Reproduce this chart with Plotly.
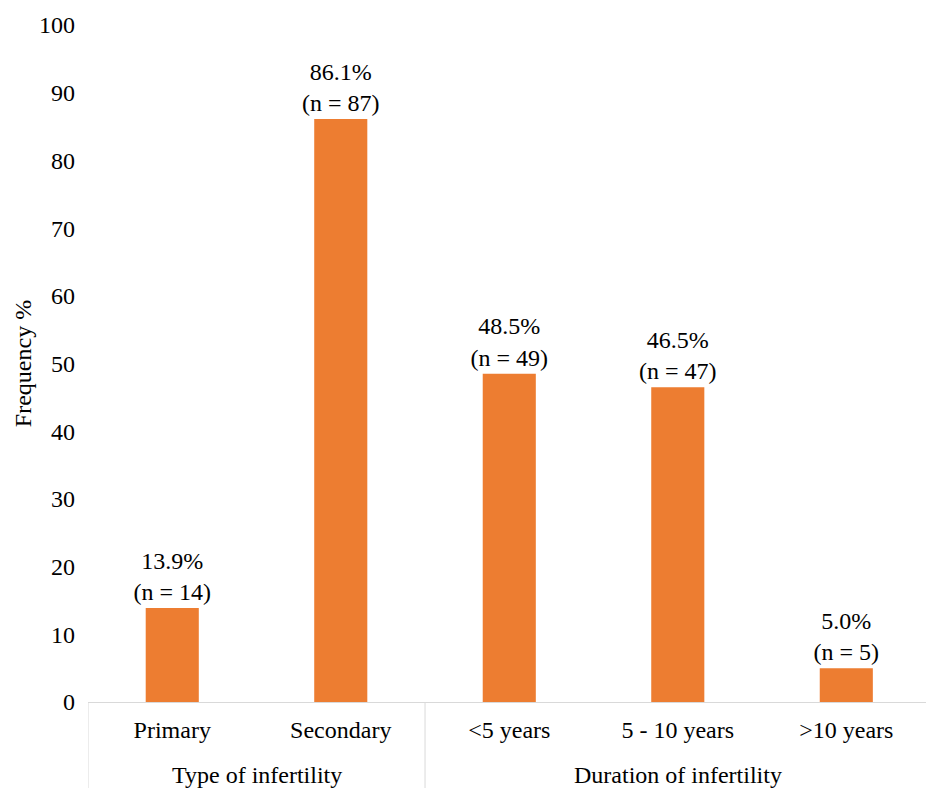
import plotly.graph_objects as go

categories = ["Primary", "Secondary", "<5 years", "5 - 10 years", ">10 years"]
percent = [13.9, 86.1, 48.5, 46.5, 5.0]
counts = [14, 87, 49, 47, 5]

# group headings: (label, first category index, last category index)
group_names = ["Type of infertility", "Duration of infertility"]
group_first = [0, 2]
group_last = [1, 4]

labels = [f"{p:.1f}%<br>(n = {n})" for p, n in zip(percent, counts)]

font_family = "Liberation Serif"
size = 24
axis_grey = "#D9D9D9"

fig = go.Figure(
    go.Bar(
        x=categories,
        y=percent,
        text=labels,
        textposition="outside",
        constraintext="none",
        textfont=dict(family=font_family, size=size, color="#000000"),
        cliponaxis=False,
        marker=dict(color="#ED7D31", line=dict(width=0)),
        width=0.315,
    )
)

# group headings under the category labels
for name, a, b in zip(group_names, group_first, group_last):
    fig.add_annotation(
        x=(a + b) / 2, y=0, xref="x", yref="paper",
        text=name, showarrow=False, yanchor="middle",
        yshift=-73,
        font=dict(family=font_family, size=size, color="#000000"),
    )

# vertical dividers between groups, running below the axis line
for edge in [group_first[0] - 0.5] + [l + 0.5 for l in group_last]:
    fig.add_shape(
        type="line", xref="x", yref="paper",
        x0=edge, x1=edge, y0=0, y1=-0.2,
        line=dict(color=axis_grey, width=1),
    )

fig.update_layout(
    width=926,
    height=788,
    margin=dict(l=88, r=0, t=25, b=86),
    paper_bgcolor="white",
    plot_bgcolor="white",
    showlegend=False,
    font=dict(family=font_family, size=size, color="#000000"),
)

fig.update_xaxes(
    type="category",
    range=[-0.5, 4.473],
    showline=True,
    linecolor=axis_grey,
    linewidth=1,
    showgrid=False,
    ticks="",
    ticklabelstandoff=6,
    tickfont=dict(family=font_family, size=size, color="#000000"),
)

fig.update_yaxes(
    range=[0, 100],
    dtick=10,
    showline=False,
    showgrid=False,
    zeroline=False,
    ticks="",
    ticklabelstandoff=12,
    tickfont=dict(family=font_family, size=size, color="#000000"),
    title=dict(text="Frequency %", font=dict(family=font_family, size=size, color="#000000"), standoff=0),
)

fig.write_html("out.html")
